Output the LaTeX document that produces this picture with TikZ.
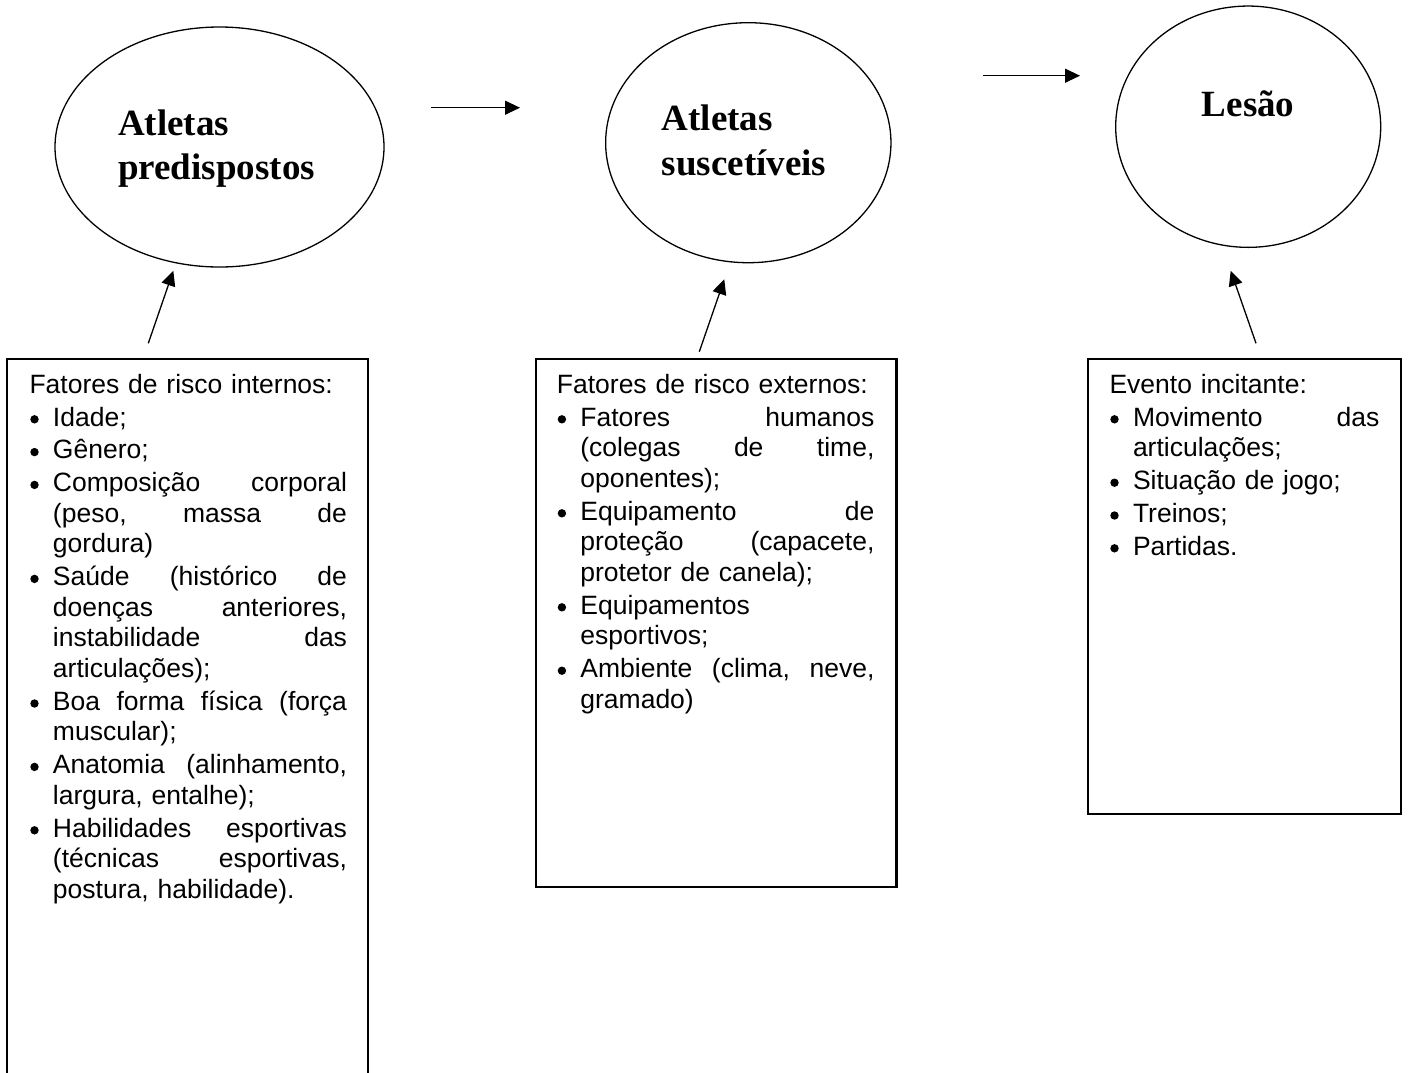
\documentclass[tikz,border=0pt]{standalone}
\usepackage{fontspec}
\newfontfamily\bodyfont{Liberation Sans}
\newfontfamily\titlefont{Liberation Serif}
\usetikzlibrary{shapes.geometric,arrows.meta}
\newlength\jw
\newcommand\bul{\makebox[23.5pt][l]{\hspace{0.8pt}\raisebox{2.6pt}{\tikz\fill (0,0) circle (4.2pt);}}}
\newcommand\ind{\hspace*{23.5pt}}
\newcommand\jl[1]{\makebox[\jw][l]{#1}}
\begin{document}
\begin{tikzpicture}[x=1pt,y=-1pt,
  oval/.style={draw, ellipse, line width=1.3pt, inner sep=0pt},
  riskbox/.style={draw, rectangle, line width=2.2pt, inner sep=0pt},
  bodytext/.style={anchor=base west, inner sep=0pt, align=left, text width=#1,
    font=\bodyfont\fontsize{26.5}{30.6}\selectfont},
  titletext/.style={anchor=base west, inner sep=0pt, align=left, text width=260pt,
    font=\titlefont\bfseries\fontsize{37}{44.5}\selectfont},
  flow/.style={line width=1.3pt, -{Triangle[length=15pt,width=14pt]}}]
\clip (0,0) rectangle (1408,1072);
\fill[white] (0,0) rectangle (1408,1072);

% ellipses
\node[oval, minimum width=329pt, minimum height=240pt] (e1) at (219.5,147) {};
\node[oval, minimum width=285.3pt, minimum height=240pt] (e2) at (748.3,142.7) {};
\node[oval, minimum width=265pt, minimum height=241.3pt] (e3) at (1248.2,126.7) {};

\node[titletext] (l1) at (118,135) {Atletas\\predispostos};
\node[titletext] (l2) at (661.7,130.5) {Atletas\\suscetíveis};
\node[titletext] (l3) at (1201.7,116) {Lesão};

% boxes
\node[riskbox, minimum width=361pt, minimum height=740pt] (b1) at (187.8,729.3) {};
\node[riskbox, minimum width=360.5pt, minimum height=527.4pt] (b2) at (716.25,623) {};
\node[riskbox, minimum width=313pt, minimum height=455pt] (b3) at (1244.8,586.8) {};

% box texts
\setlength\jw{294pt}
\node[bodytext=317.5pt] (t1) at (29.3,393.3) {%
Fatores de risco internos:\\[2.2pt]
\bul Idade;\\[2.2pt]
\bul Gênero;\\[2.2pt]
\bul\jl{Composição\hfill corporal}\\
\ind\jl{(peso,\hfill massa\hfill de}\\
\ind gordura)\\[2.2pt]
\bul\jl{Saúde\hfill (histórico\hfill de}\\
\ind\jl{doenças\hfill anteriores,}\\
\ind\jl{instabilidade\hfill das}\\
\ind articulações);\\[2.2pt]
\bul\jl{Boa\hfill forma\hfill física\hfill (força}\\
\ind muscular);\\[2.2pt]
\bul\jl{Anatomia\hfill (alinhamento,}\\
\ind largura, entalhe);\\[2.2pt]
\bul\jl{Habilidades\hfill esportivas}\\
\ind\jl{(técnicas\hfill esportivas,}\\
\ind postura, habilidade).};

\node[bodytext=317.5pt] (t2) at (556.7,393.3) {%
Fatores de risco externos:\\[2.2pt]
\bul\jl{Fatores\hfill humanos}\\
\ind\jl{(colegas\hfill de\hfill time,}\\
\ind oponentes);\\[2.2pt]
\bul\jl{Equipamento\hfill de}\\
\ind\jl{proteção\hfill (capacete,}\\
\ind protetor de canela);\\[2.2pt]
\bul Equipamentos\\
\ind esportivos;\\[2.2pt]
\bul\jl{Ambiente\hfill (clima,\hfill neve,}\\
\ind gramado)};

\setlength\jw{246.5pt}
\node[bodytext=272pt] (t3) at (1109.3,393.3) {%
Evento incitante:\\[2.2pt]
\bul\jl{Movimento\hfill das}\\
\ind articulações;\\[2.2pt]
\bul Situação de jogo;\\[2.2pt]
\bul Treinos;\\[2.2pt]
\bul Partidas.};

% connectors
\coordinate (h1s) at (431,107.7);
\coordinate (h1e) at (520,107.7);
\coordinate (h2s) at (983,75.7);
\coordinate (h2e) at (1080,75.7);
\coordinate (u1s) at (148.3,343.3);
\coordinate (u1e) at (173.3,270.7);
\coordinate (u2s) at (699.3,351.7);
\coordinate (u2e) at (724.3,279.3);
\coordinate (u3s) at (1256,343.3);
\coordinate (u3e) at (1230.7,270.7);
\draw[flow] (h1s) -- (h1e);
\draw[flow] (h2s) -- (h2e);
\draw[flow] (u1s) -- (u1e);
\draw[flow] (u2s) -- (u2e);
\draw[flow] (u3s) -- (u3e);
\end{tikzpicture}
\end{document}
